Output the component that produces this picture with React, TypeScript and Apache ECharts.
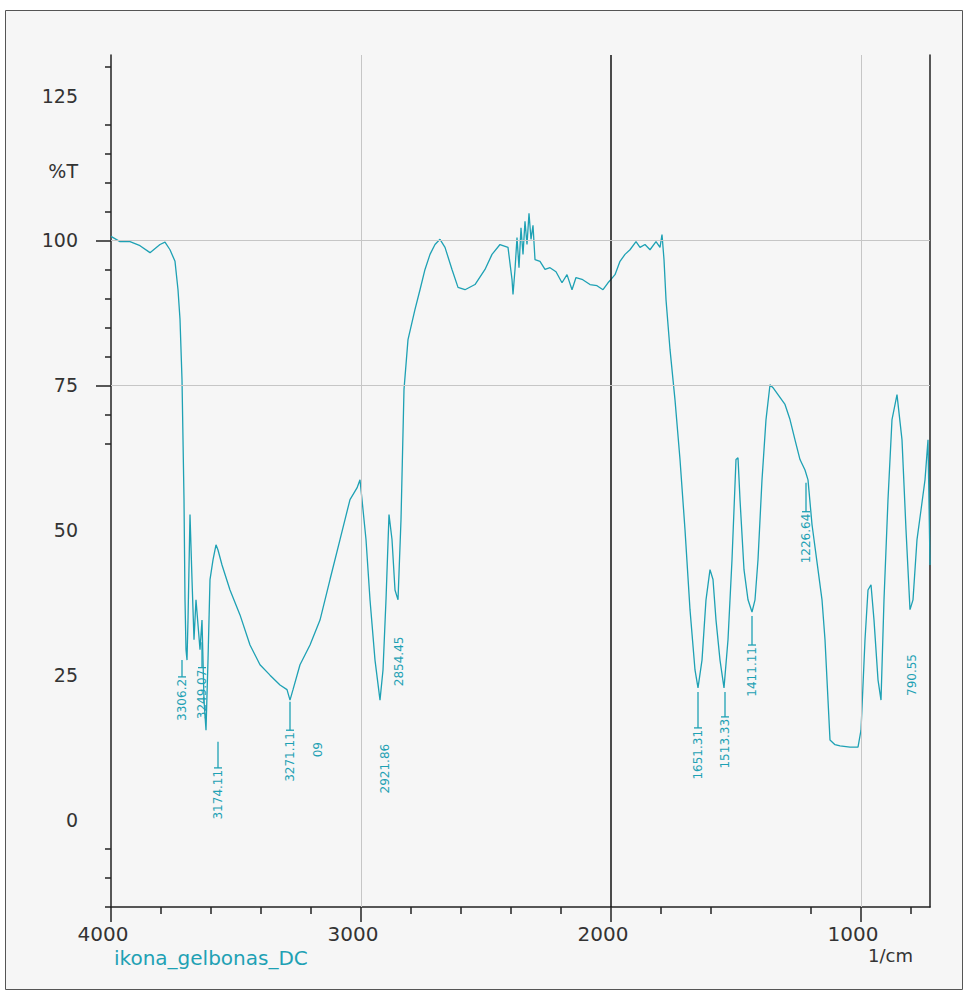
import React, { useEffect, useRef } from "react";
import * as echarts from "echarts";

// ---- data ----
const SERIES_NAME = "ikona_gelbonas_DC";
const X_UNIT = "1/cm";

const WAVENUMBER = [
  4000, 3964, 3924, 3884, 3844, 3804, 3784, 3764, 3744, 3732, 3724, 3716, 3708, 3704, 3700, 3696, 3692, 3684, 3676, 3668,
  3660, 3652, 3644, 3636, 3628, 3620, 3612, 3604, 3592, 3580, 3572, 3556, 3524, 3484, 3444, 3404, 3364, 3324, 3296, 3284,
  3272, 3244, 3204, 3164, 3124, 3084, 3044, 3016, 3004, 2996, 2980, 2964, 2944, 2924, 2912, 2900, 2888, 2876, 2864, 2852,
  2840, 2828, 2812, 2784, 2764, 2744, 2724, 2704, 2684, 2664, 2636, 2612, 2584, 2544, 2504, 2476, 2444, 2412, 2396, 2392,
  2384, 2376, 2368, 2360, 2352, 2344, 2336, 2328, 2320, 2312, 2304, 2284, 2264, 2244, 2220, 2196, 2176, 2156, 2140, 2116,
  2084, 2056, 2032, 2012, 2000, 1984, 1964, 1944, 1924, 1900, 1884, 1864, 1844, 1820, 1804, 1796, 1788, 1780, 1764, 1744,
  1724, 1704, 1684, 1664, 1652, 1636, 1620, 1604, 1592, 1580, 1564, 1548, 1532, 1516, 1500, 1492, 1484, 1468, 1452, 1436,
  1424, 1412, 1396, 1380, 1364, 1352, 1332, 1304, 1284, 1264, 1244, 1224, 1212, 1196, 1172, 1156, 1144, 1132, 1124, 1104,
  1084, 1044, 1012, 1000, 984, 972, 960, 948, 932, 920, 908, 892, 876, 856, 836, 820, 804, 792, 776, 760,
  744, 732, 724,
];

const TRANSMITTANCE = [
  100.7, 99.8, 99.8, 99.1, 97.9, 99.3, 99.7, 98.4, 96.4, 91.5, 86.4, 76.0, 55.3, 38.0, 29.4, 27.6, 34.5, 52.7, 41.5, 31.1,
  38.0, 33.7, 29.4, 34.5, 20.7, 15.5, 27.6, 41.5, 44.9, 47.5, 46.6, 44.0, 39.7, 35.4, 30.2, 26.8, 25.0, 23.3, 22.5, 20.7,
  22.5, 26.8, 30.2, 34.5, 41.5, 48.4, 55.3, 57.3, 58.7, 55.3, 48.4, 38.0, 27.6, 20.7, 25.9, 38.0, 52.7, 48.4, 39.7, 38.0,
  51.8, 74.3, 82.9, 88.1, 91.5, 95.0, 97.6, 99.3, 100.2, 98.8, 95.0, 91.9, 91.5, 92.4, 95.0, 97.6, 99.3, 98.8, 93.3, 90.7,
  95.0, 100.5, 95.3, 102.2, 97.6, 103.3, 99.3, 104.7, 100.2, 102.6, 96.7, 96.4, 95.0, 95.3, 94.6, 92.7, 94.1, 91.5, 93.6, 93.3,
  92.4, 92.2, 91.5, 92.7, 93.3, 94.1, 96.4, 97.6, 98.4, 99.8, 98.8, 99.3, 98.4, 99.8, 98.8, 101.0, 96.7, 89.8, 81.2, 72.5,
  62.2, 50.1, 36.3, 25.9, 22.8, 27.6, 38.0, 43.2, 41.5, 34.5, 27.6, 22.8, 31.1, 44.9, 62.2, 62.5, 55.3, 43.2, 38.0, 35.9,
  38.0, 44.9, 58.7, 69.1, 75.1, 74.6, 73.4, 71.7, 69.1, 65.6, 62.2, 60.4, 58.7, 51.0, 43.2, 38.0, 31.1, 20.7, 13.8, 13.0,
  12.8, 12.6, 12.6, 15.5, 31.1, 39.7, 40.6, 34.5, 24.2, 20.7, 38.0, 55.3, 69.1, 73.4, 65.6, 50.1, 36.3, 38.0, 48.4, 53.5,
  58.7, 65.6, 44.0,
];

// peak annotations: position, tick start / label anchor (in %T), text
const PEAK_WN = [3716, 3636, 3572, 3284, 3172, 2904, 2848, 1652, 1544, 1436, 1220, 796];
const PEAK_TICK_START = [27.6, 30.7, 13.5, 20.4, 13.8, 13.5, 32.0, 22.1, 22.1, 35.2, 58.2, 29.0];
const PEAK_TICK_END = [24.7, 26.3, 9.0, 15.5, 13.8, 13.5, 32.0, 15.9, 17.8, 30.2, 53.2, 29.0];
const PEAK_TEXT = ["3306.2", "3249.07", "3174.11", "3271.11", "09", "2921.86", "2854.45", "1651.31", "1513.33", "1411.11", "1226.64", "790.55"];

// axes
const X_MIN = 724;
const X_MAX = 4000;
const X_MAJOR = [4000, 3000, 2000, 1000];
const X_MINOR = [3800, 3600, 3400, 3200, 2800, 2600, 2400, 2200, 1800, 1600, 1200, 800];
const Y_MIN = -15;
const Y_MAX = 132;
const Y_LABELS = [0, 25, 50, 75, 100, 112, 125];
const Y_UNIT_AT = 112;
const Y_UNIT = "%T";
const Y_MINOR = [130, 120, 115, 110, 105, 95, 90, 85, 80, 70, 65, -5, -10, -15];
const Y_MAJOR = [100, 75];
const V_GRID = [3000, 1000];
const V_MARKER = [2000];
const H_GRID = [100, 75];

const TEAL = "#1ea1b4";
const AXIS = "#222";
const TEXT = "#333";
const FONT = "DejaVu Sans";

export default function App() {
  const ref = useRef<HTMLDivElement>(null);
  useEffect(() => {
    if (!ref.current) return;
    const chart = echarts.init(ref.current, undefined, { renderer: "svg" });
    const lineData = WAVENUMBER.map((w, i) => [w, TRANSMITTANCE[i]]);
    const peakData = PEAK_WN.map((w, i) => [w, PEAK_TICK_START[i], PEAK_TICK_END[i]]);
    const gridLine = { color: "#c6c6c6", width: 1, type: "solid" };
    const option: any = {
      animation: false,
      backgroundColor: "#ffffff",
      graphic: [
        {
          type: "rect",
          z: -10,
          silent: true,
          shape: { x: 5.5, y: 10.5, width: 957, height: 979 },
          style: { fill: "#f6f6f6", stroke: "#555", lineWidth: 1 },
        },
        {
          type: "text",
          left: 868,
          top: 946,
          style: { text: X_UNIT, fill: TEXT, font: `18px "${FONT}"` },
        },
      ],
      legend: {
        left: 104,
        top: 943,
        icon: "none",
        itemWidth: 0,
        itemHeight: 0,
        data: [{ name: SERIES_NAME, icon: "none" }],
        textStyle: { color: TEAL, fontFamily: FONT, fontSize: 20 },
        selectedMode: false,
      },
      grid: { left: 111, right: 40, top: 55, bottom: 87, containLabel: false },
      xAxis: [
        {
          type: "value",
          min: X_MIN,
          max: X_MAX,
          inverse: true,
          position: "bottom",
          axisLine: { show: true, onZero: false, lineStyle: { color: AXIS, width: 1.5 } },
          axisTick: { show: true, customValues: X_MINOR, length: 7, lineStyle: { color: AXIS, width: 1.5 } },
          axisLabel: { show: false },
          splitLine: { show: false },
        },
        {
          type: "value",
          min: X_MIN,
          max: X_MAX,
          inverse: true,
          position: "bottom",
          axisLine: { show: false, onZero: false },
          axisTick: { show: true, customValues: X_MAJOR, length: 15, lineStyle: { color: AXIS, width: 1.5 } },
          axisLabel: {
            show: true,
            customValues: X_MAJOR,
            margin: 17,
            padding: [0, 16, 0, 0],
            color: TEXT,
            fontFamily: FONT,
            fontSize: 20,
            formatter: (v: number) => String(v),
          },
          splitLine: { show: false },
        },
      ],
      yAxis: [
        {
          type: "value",
          min: Y_MIN,
          max: Y_MAX,
          position: "left",
          axisLine: { show: true, onZero: false, lineStyle: { color: AXIS, width: 1.5 } },
          axisTick: { show: true, customValues: Y_MINOR, length: 6, lineStyle: { color: AXIS, width: 1.5 } },
          axisLabel: {
            show: true,
            customValues: Y_LABELS,
            margin: 33,
            color: TEXT,
            fontFamily: FONT,
            fontSize: 19,
            formatter: (v: number) => (v === Y_UNIT_AT ? Y_UNIT : String(v)),
          },
          splitLine: { show: false },
        },
        {
          type: "value",
          min: Y_MIN,
          max: Y_MAX,
          position: "left",
          axisLine: { show: false, onZero: false },
          axisTick: { show: true, customValues: Y_MAJOR, length: 15, lineStyle: { color: AXIS, width: 1.5 } },
          axisLabel: { show: false },
          splitLine: { show: false },
        },
        {
          type: "value",
          min: Y_MIN,
          max: Y_MAX,
          position: "right",
          axisLine: { show: true, onZero: false, lineStyle: { color: AXIS, width: 1.5 } },
          axisTick: { show: false },
          axisLabel: { show: false },
          splitLine: { show: false },
        },
      ],
      series: [
        {
          name: "grid",
          type: "line",
          data: [],
          z: 1,
          silent: true,
          markLine: {
            silent: true,
            symbol: ["none", "none"],
            label: { show: false },
            emphasis: { disabled: true },
            data: [
              ...V_GRID.map((v) => ({ xAxis: v, lineStyle: gridLine })),
              ...V_MARKER.map((v) => ({ xAxis: v, lineStyle: { color: "#111", width: 1.5, type: "solid" } })),
              ...H_GRID.map((v) => ({ yAxis: v, lineStyle: gridLine })),
            ],
          },
        },
        {
          name: SERIES_NAME,
          type: "line",
          data: lineData,
          showSymbol: false,
          z: 3,
          color: TEAL,
          lineStyle: { color: TEAL, width: 1.3 },
        },
        {
          name: "peaks",
          type: "custom",
          z: 4,
          data: peakData,
          encode: { x: 0, y: 1 },
          renderItem: (params: any, api: any) => {
            const w = api.value(0);
            const t0 = api.value(1);
            const t1 = api.value(2);
            const p0 = api.coord([w, t0]);
            const p1 = api.coord([w, t1]);
            const children: any[] = [];
            if (t0 !== t1) {
              children.push({
                type: "line",
                shape: { x1: p0[0], y1: p0[1], x2: p1[0], y2: p1[1] },
                style: { stroke: TEAL, lineWidth: 1.3 },
              });
              children.push({
                type: "line",
                shape: { x1: p1[0] - 4, y1: p1[1], x2: p1[0] + 4, y2: p1[1] },
                style: { stroke: TEAL, lineWidth: 1.3 },
              });
            }
            children.push({
              type: "text",
              x: p1[0],
              y: p1[1] + 2,
              rotation: Math.PI / 2,
              style: {
                text: PEAK_TEXT[params.dataIndex],
                fill: TEAL,
                font: `12px "${FONT}"`,
                align: "right",
                verticalAlign: "middle",
              },
            });
            return { type: "group", children };
          },
        },
      ],
    };
    chart.setOption(option);
    return () => chart.dispose();
  }, []);
  return <div ref={ref} style={{ position: "fixed", left: 0, top: 0, width: 970, height: 994 }} />;
}
